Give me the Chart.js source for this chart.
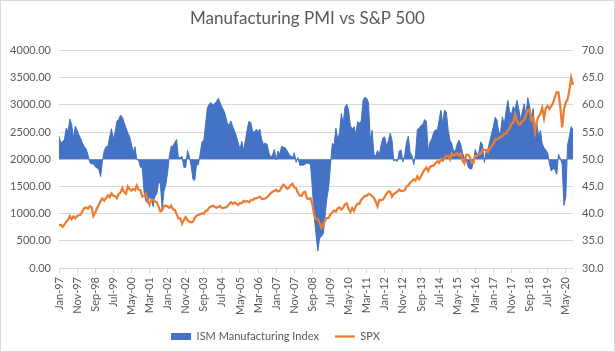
<!DOCTYPE html>
<html>
<head>
<meta charset="utf-8">
<script src="https://cdn.jsdelivr.net/npm/chart.js@4.4.1/dist/chart.umd.min.js"></script>
<style>
  html, body { margin: 0; padding: 0; background: #fff; }
  #wrap { width: 615px; height: 352px; position: relative; }
</style>
</head>
<body>
<div id="wrap"><canvas id="chart" width="615" height="352"></canvas></div>
<script>
// Monthly, Jan-97 .. Sep-20
const startYear = 1997;
const monthNames = ['Jan', 'Feb', 'Mar', 'Apr', 'May', 'Jun', 'Jul', 'Aug', 'Sep', 'Oct', 'Nov', 'Dec'];

// ISM Manufacturing Index (right axis)
const ism = [
  54.2, 53.0, 53.2, 53.6, 55.7, 55.1, 57.4, 56.4, 53.9, 56.1, 55.3, 54.5, // 1997
  53.8, 52.9, 52.3, 51.9, 50.8, 49.4, 49.1, 49.2, 48.6, 48.4, 48.1, 46.8, // 1998
  49.6, 51.6, 52.3, 52.3, 54.1, 55.6, 53.7, 55.0, 57.0, 57.3, 58.1, 57.7, // 1999
  56.7, 55.8, 54.8, 54.2, 52.8, 51.3, 52.3, 49.9, 49.8, 48.5, 48.4, 43.9, // 2000
  42.3, 41.9, 43.1, 42.7, 41.3, 43.2, 43.5, 45.8, 45.5, 40.8, 44.1, 45.3, // 2001
  47.5, 50.7, 52.4, 52.4, 53.1, 53.6, 50.2, 50.3, 50.5, 48.5, 48.5, 51.6, // 2002
  50.5, 48.8, 46.3, 46.1, 49.0, 49.0, 51.0, 53.2, 53.4, 56.5, 59.5, 60.1, // 2003
  60.4, 60.0, 60.2, 60.6, 61.2, 60.4, 59.6, 59.0, 58.0, 56.6, 56.3, 57.0, // 2004
  56.0, 55.2, 54.2, 53.0, 51.8, 53.3, 51.6, 53.5, 55.5, 57.0, 56.7, 55.1, // 2005
  55.0, 55.5, 55.1, 55.5, 53.6, 52.7, 53.0, 52.7, 51.2, 50.3, 50.8, 51.8, // 2006
  49.9, 51.5, 50.9, 52.4, 52.2, 52.1, 51.6, 50.9, 50.6, 50.3, 51.2, 49.4, // 2007
  50.3, 48.9, 48.9, 48.9, 49.1, 49.3, 49.2, 49.0, 44.5, 39.5, 36.2, 33.1, // 2008
  35.5, 35.8, 36.3, 39.5, 42.8, 44.8, 48.9, 52.9, 52.6, 55.7, 53.6, 54.9, // 2009
  58.4, 56.5, 59.6, 60.1, 59.0, 56.2, 55.5, 56.0, 54.6, 56.9, 56.6, 57.0, // 2010
  60.8, 61.4, 61.2, 60.4, 53.5, 55.3, 50.9, 50.6, 51.6, 50.8, 52.7, 53.9, // 2011
  54.1, 52.4, 53.4, 54.8, 53.5, 49.7, 49.8, 49.6, 51.5, 51.7, 49.5, 50.7, // 2012
  53.1, 54.2, 51.3, 50.7, 49.0, 50.9, 55.4, 55.7, 56.2, 56.4, 57.3, 57.0, // 2013
  51.3, 53.2, 53.7, 54.9, 55.4, 55.3, 57.1, 59.0, 56.6, 59.0, 58.7, 55.5, // 2014
  53.5, 52.9, 51.5, 51.5, 52.8, 53.5, 52.7, 51.1, 50.2, 50.1, 48.6, 48.2, // 2015
  48.2, 49.5, 51.8, 50.8, 51.3, 53.2, 52.6, 49.4, 51.5, 51.9, 53.2, 54.7, // 2016
  56.0, 57.7, 57.2, 54.8, 54.9, 57.8, 56.3, 58.8, 60.8, 58.7, 58.2, 59.7, // 2017
  59.1, 60.8, 59.3, 57.3, 58.7, 60.2, 58.1, 61.3, 59.8, 57.7, 59.3, 54.1, // 2018
  56.6, 54.2, 55.3, 52.8, 52.1, 51.7, 51.2, 49.1, 47.8, 48.3, 48.1, 47.2, // 2019
  50.9, 50.1, 49.1, 41.5, 43.1, 52.6, 54.2, 56.0, 55.4                    // 2020
];

// S&P 500 month-end close (left axis)
const spx = [
  786.16, 790.82, 757.12, 801.34, 848.28, 885.14, 954.31, 899.47, 947.28, 914.62, 955.40, 970.43,
  980.28, 1049.34, 1101.75, 1111.75, 1090.82, 1133.84, 1120.67, 957.28, 1017.01, 1098.67, 1163.63, 1229.23,
  1279.64, 1238.33, 1286.37, 1335.18, 1301.84, 1372.71, 1328.72, 1320.41, 1282.71, 1362.93, 1388.91, 1469.25,
  1394.46, 1366.42, 1498.58, 1452.43, 1420.60, 1454.60, 1430.83, 1517.68, 1436.51, 1429.40, 1314.95, 1320.28,
  1366.01, 1239.94, 1160.33, 1249.46, 1255.82, 1224.38, 1211.23, 1133.58, 1040.94, 1059.78, 1139.45, 1148.08,
  1130.20, 1106.73, 1147.39, 1076.92, 1067.14, 989.82, 911.62, 916.07, 815.28, 885.76, 936.31, 879.82,
  855.70, 841.15, 848.18, 916.92, 963.59, 974.50, 990.31, 1008.01, 995.97, 1050.71, 1058.20, 1111.92,
  1131.13, 1144.94, 1126.21, 1107.30, 1120.68, 1140.84, 1101.72, 1104.24, 1114.58, 1130.20, 1173.82, 1211.92,
  1181.27, 1203.60, 1180.59, 1156.85, 1191.50, 1191.33, 1234.18, 1220.33, 1228.81, 1207.01, 1249.48, 1248.29,
  1280.08, 1280.66, 1294.87, 1310.61, 1270.09, 1270.20, 1276.66, 1303.82, 1335.85, 1377.94, 1400.63, 1418.30,
  1438.24, 1406.82, 1420.86, 1482.37, 1530.62, 1503.35, 1455.27, 1473.99, 1526.75, 1549.38, 1481.14, 1468.36,
  1378.55, 1330.63, 1322.70, 1385.59, 1400.38, 1280.00, 1267.38, 1282.83, 1166.36, 968.75, 896.24, 903.25,
  825.88, 735.09, 797.87, 872.81, 919.14, 919.32, 987.48, 1020.62, 1057.08, 1036.19, 1095.63, 1115.10,
  1073.87, 1104.49, 1169.43, 1186.69, 1089.41, 1030.71, 1101.60, 1049.33, 1141.20, 1183.26, 1180.55, 1257.64,
  1286.12, 1327.22, 1325.83, 1363.61, 1345.20, 1320.64, 1292.28, 1218.89, 1131.42, 1253.30, 1246.96, 1257.60,
  1312.41, 1365.68, 1408.47, 1397.91, 1310.33, 1362.16, 1379.32, 1406.58, 1440.67, 1412.16, 1416.18, 1426.19,
  1498.11, 1514.68, 1569.19, 1597.57, 1630.74, 1606.28, 1685.73, 1632.97, 1681.55, 1756.54, 1805.81, 1848.36,
  1782.59, 1859.45, 1872.34, 1883.95, 1923.57, 1960.23, 1930.67, 2003.37, 1972.29, 2018.05, 2067.56, 2058.90,
  1994.99, 2104.50, 2067.89, 2085.51, 2107.39, 2063.11, 2103.84, 1972.18, 1920.03, 2079.36, 2080.41, 2043.94,
  1940.24, 1932.23, 2059.74, 2065.30, 2096.95, 2098.86, 2173.60, 2170.95, 2168.27, 2126.15, 2198.81, 2238.83,
  2278.87, 2363.64, 2362.72, 2384.20, 2411.80, 2423.41, 2470.30, 2471.65, 2519.36, 2575.26, 2647.58, 2673.61,
  2823.81, 2713.83, 2640.87, 2648.05, 2705.27, 2718.37, 2816.29, 2901.52, 2913.98, 2711.74, 2760.17, 2506.85,
  2704.10, 2784.49, 2834.40, 2945.83, 2752.06, 2941.76, 2980.38, 2926.46, 2976.74, 3037.56, 3140.98, 3230.78,
  3225.52, 2954.22, 2584.59, 2912.43, 3044.31, 3100.29, 3271.12, 3500.31, 3363.00
];

// category labels Jan-97, Feb-97, ...
const labels = spx.map((_, i) => {
  const y = startYear + Math.floor(i / 12);
  return monthNames[i % 12] + '-' + String(y % 100).padStart(2, '0');
});

const labelEvery = 10;
const gridColor = '#d9d9d9';
const textColor = '#595959';

Chart.defaults.font.family = 'Lato, "Open Sans", sans-serif';
Chart.defaults.color = textColor;

// light frame round the chart, like the Excel chart border
const frame = {
  id: 'frame',
  afterDraw(chart) {
    const c = chart.ctx;
    c.save();
    c.strokeStyle = gridColor;
    c.lineWidth = 1;
    c.strokeRect(0.5, 0.5, chart.width - 1, chart.height - 1);
    c.restore();
  }
};

// Excel centres the legend a little left of the middle
const legendShift = {
  id: 'legendShift',
  afterLayout(chart) {
    if (!chart.legend) return;
    chart.legend.left -= 32;
    chart.legend.right -= 32;
  }
};

new Chart(document.getElementById('chart'), {
  type: 'line',
  data: {
    labels: labels,
    datasets: [
      {
        label: 'ISM Manufacturing Index',
        data: ism,
        yAxisID: 'y1',
        order: 1,
        fill: { value: 50 },
        backgroundColor: '#4472C4',
        borderColor: '#4472C4',
        borderWidth: 1,
        pointRadius: 0,
        tension: 0
      },
      {
        label: 'SPX',
        data: spx,
        yAxisID: 'y',
        order: 0,
        fill: false,
        borderColor: '#ED7D31',
        backgroundColor: '#ED7D31',
        borderWidth: 2.25,
        pointRadius: 0,
        tension: 0
      }
    ]
  },
  options: {
    responsive: false,
    animation: false,
    layout: { padding: { top: 0, bottom: 0, left: 0, right: 0 } },
    plugins: {
      tooltip: { enabled: false },
      title: {
        display: true,
        text: 'Manufacturing PMI vs S&P 500',
        color: textColor,
        font: { size: 17, weight: 'normal' },
        padding: { top: 8, bottom: 22 }
      },
      legend: {
        position: 'bottom',
        labels: {
          usePointStyle: true,
          pointStyleWidth: 20,
          boxHeight: 7,
          padding: 16,
          color: textColor,
          font: { size: 11 },
          sort: (a, b) => a.datasetIndex - b.datasetIndex,
          generateLabels(chart) {
            const items = Chart.defaults.plugins.legend.labels.generateLabels(chart);
            items.forEach((it) => {
              if (it.datasetIndex === 0) {
                it.pointStyle = 'rect';
                it.lineWidth = 0;
                it.fillStyle = '#4472C4';
              } else {
                it.pointStyle = 'line';
                it.lineWidth = 2.25;
                it.strokeStyle = '#ED7D31';
              }
            });
            return items;
          }
        }
      }
    },
    scales: {
      x: {
        type: 'category',
        offset: false,
        afterFit(scale) { scale.height = 47; },
        ticks: {
          autoSkip: false,
          minRotation: 90,
          maxRotation: 90,
          padding: 4,
          color: textColor,
          font: { size: 11 },
          callback(v, i) { return i % labelEvery === 0 ? labels[i] : ''; }
        },
        grid: {
          drawOnChartArea: false,
          drawTicks: true,
          tickLength: 5,
          color: (ctx) => (ctx.index % labelEvery === 0 ? gridColor : 'rgba(0,0,0,0)')
        },
        border: { display: true, color: gridColor }
      },
      y: {
        position: 'left',
        min: 0,
        max: 4000,
        afterFit(scale) { scale.width = 59; },
        ticks: {
          stepSize: 500,
          padding: 8,
          color: textColor,
          font: { size: 11 },
          callback: (v) => v.toFixed(2)
        },
        grid: { color: gridColor, drawTicks: false },
        border: { display: false }
      },
      y1: {
        position: 'right',
        min: 30,
        max: 70,
        afterFit(scale) { scale.width = 42; },
        ticks: {
          stepSize: 5,
          padding: 9,
          color: textColor,
          font: { size: 11 },
          callback: (v) => v.toFixed(1)
        },
        grid: { drawOnChartArea: false, drawTicks: false },
        border: { display: false }
      }
    }
  },
  plugins: [frame, legendShift]
});
</script>
</body>
</html>
